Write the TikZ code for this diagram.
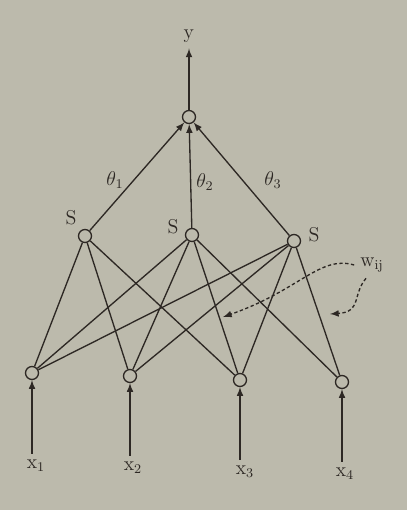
\documentclass[tikz,border=0pt]{standalone}
\usetikzlibrary{arrows}
\definecolor{paper}{RGB}{188,186,172}
\definecolor{ink}{RGB}{45,40,36}

\begin{document}
\begin{tikzpicture}[x=0.6pt,y=-0.6pt,line width=0.8pt,draw=ink,text=ink,font=\large,
  unit/.style={circle,draw,inner sep=0pt,minimum size=7.8pt}]
\fill[paper] (0,0) rectangle (407,510);

% units
\node[unit] (out) at (189,117) {};
\node[unit] (s1) at (85,236) {};
\node[unit] (s2) at (192,235) {};
\node[unit] (s3) at (294,241) {};
\node[unit] (i1) at (32,373) {};
\node[unit] (i2) at (130,376) {};
\node[unit] (i3) at (240,380) {};
\node[unit] (i4) at (342,382) {};

% labels
\node (y) at (189,36) {$\mathrm{y}$};
\node (x1) at (36,466) {$\mathrm{x}_1$};
\node (x2) at (133,468) {$\mathrm{x}_2$};
\node (x3) at (245,472) {$\mathrm{x}_3$};
\node (x4) at (345,474) {$\mathrm{x}_4$};
\node (l1) at (71,218) {S};
\node (l2) at (173,227) {S};
\node (l3) at (314,235) {S};
\node (t1) at (115,180) {$\theta_1$};
\node (t2) at (205,182) {$\theta_2$};
\node (t3) at (273,180) {$\theta_3$};
\node (w) at (372,265) {$\mathrm{w}_{\mathrm{ij}}$};

% output
\draw[-latex] (out) -- (out |- y.south);
\draw[-latex] (s1) -- (out);
\draw[-latex] (s2) -- (out);
\draw[-latex] (s3) -- (out);

% inputs
\draw[-latex] (i1 |- x1.north) -- (i1);
\draw[-latex] (i2 |- x2.north) -- (i2);
\draw[-latex] (i3 |- x3.north) -- (i3);
\draw[-latex] (i4 |- x4.north) -- (i4);

% weights
\draw (i1) -- (s1); \draw (i1) -- (s2); \draw (i1) -- (s3);
\draw (i2) -- (s1); \draw (i2) -- (s2); \draw (i2) -- (s3);
\draw (i3) -- (s1); \draw (i3) -- (s2); \draw (i3) -- (s3);
\draw (i4) -- (s2); \draw (i4) -- (s3);

\draw[dash pattern=on 2pt off 1.5pt,-latex] (w.west) .. controls (320,255) and (300,290) .. (223,317);
\draw[dash pattern=on 2pt off 1.5pt,-latex] (w.south) ++(-6,0) .. controls (352,295) and (362,312) .. (330,314);
\end{tikzpicture}
\end{document}
